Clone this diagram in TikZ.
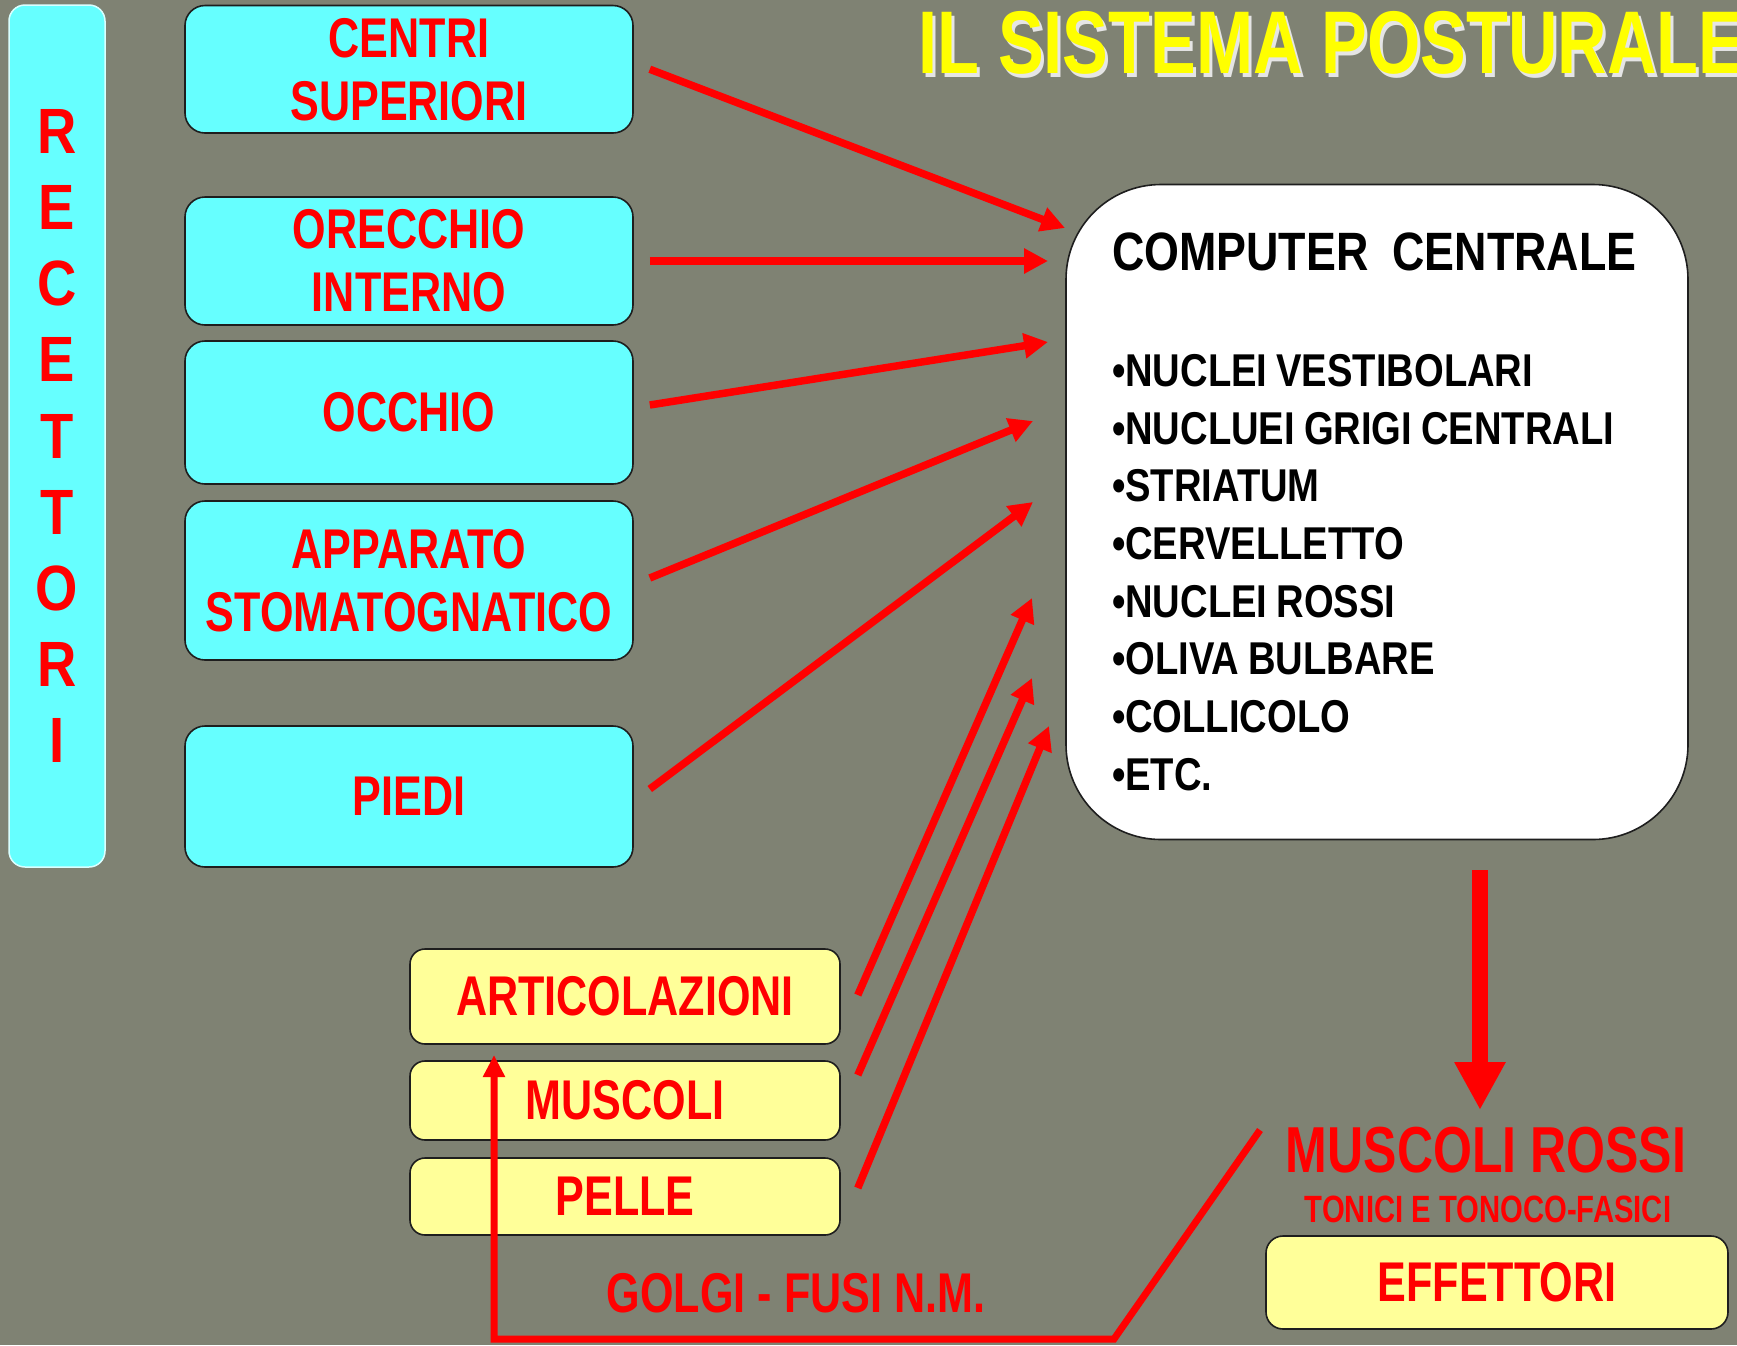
\documentclass[tikz,border=0pt]{standalone}
\usepackage{fontspec}
\setmainfont{Liberation Sans}
\newfontfamily\redf{Liberation Sans}[FakeStretch=0.77]
\newfontfamily\blkf{Liberation Sans}[FakeStretch=0.83]
\newfontfamily\letf{Liberation Sans}[FakeStretch=0.85]
\newcommand\wsp{\hspace{9pt}}
\usetikzlibrary{arrows.meta}
\definecolor{bg}{RGB}{127,130,115}
\definecolor{cy}{RGB}{102,255,255}
\definecolor{ly}{RGB}{255,255,153}
\definecolor{rd}{RGB}{255,0,0}
\definecolor{ttl}{RGB}{255,255,0}
\definecolor{edge}{RGB}{30,30,30}
\begin{document}
\begin{tikzpicture}[x=1pt,y=-1pt,
  cybox/.style={draw=edge, line width=1.6pt, fill=cy, rounded corners=20pt,
    minimum width=448pt, inner sep=0pt, align=center, text=rd,
    font=\redf\bfseries\fontsize{56}{63}\selectfont},
  ybox/.style={draw=edge, line width=1.6pt, fill=ly, rounded corners=15pt,
    inner sep=0pt, align=center, text=rd,
    font=\redf\bfseries\fontsize{56}{63}\selectfont},
  redtxt/.style={inner sep=0pt, text=rd, font=\redf\bfseries\fontsize{56}{63}\selectfont},
  arr/.style={draw=rd, line width=7.5pt, -{Triangle[length=24pt,width=24pt]}},
  bigarr/.style={draw=rd, line width=16pt, -{Triangle[length=48pt,width=48pt]}},
  fbline/.style={draw=rd, line width=7pt, line join=miter, -{Triangle[length=22pt,width=21pt]}}
]
\useasboundingbox (0,0) rectangle (1737,1345);
\fill[bg] (0,0) rectangle (1737,1345);

% title with light shadow
\node[anchor=west, inner sep=0pt, text=white!80!gray, font=\redf\bfseries\fontsize{89}{90}\selectfont] (titleshadow) at (921,47) {IL SISTEMA POSTURALE};
\node[anchor=west, inner sep=0pt, text=ttl, font=\redf\bfseries\fontsize{89}{90}\selectfont] (title) at (918,43) {IL SISTEMA POSTURALE};

% RECETTORI bar
\node[draw=white!75!cy, line width=1.5pt, fill=cy, rounded corners=16pt,
  minimum width=96pt, minimum height=862pt, inner sep=0pt, align=center, text=rd,
  font=\letf\bfseries\fontsize{64}{76.1}\selectfont] (rbar) at (57,436)
  {R\\E\\C\\E\\T\\T\\O\\R\\I};

% receptor boxes
\node[cybox, minimum height=127.5pt] (cs) at (409,69.25) {CENTRI\\SUPERIORI};
\node[cybox, minimum height=128pt] (oi) at (409,261) {ORECCHIO\\INTERNO};
\node[cybox, minimum height=143pt] (occ) at (409,412.5) {OCCHIO};
\node[cybox, minimum height=159pt] (app) at (409,580.5) {APPARATO\\STOMATOGNATICO};
\node[cybox, minimum height=141pt] (pie) at (409,796.5) {PIEDI};

% computer box
\node[draw=edge, line width=1.6pt, fill=white, rounded corners=95pt,
  minimum width=622pt, minimum height=655pt, inner sep=0pt,
  text width=530pt, align=left, text=black,
  font=\blkf\bfseries\fontsize{46}{57.7}\selectfont] (comp) at (1377,512)
  {\mbox{\fontsize{54}{57.7}\selectfont COMPUTER\hspace{24pt}CENTRALE}\\[57.7pt]
   \mbox{•NUCLEI\wsp VESTIBOLARI}\\
   \mbox{•NUCLUEI\wsp GRIGI\wsp CENTRALI}\\
   \mbox{•STRIATUM}\\
   \mbox{•CERVELLETTO}\\
   \mbox{•NUCLEI\wsp ROSSI}\\
   \mbox{•OLIVA\wsp BULBARE}\\
   \mbox{•COLLICOLO}\\
   \mbox{•ETC.}};

% yellow boxes
\node[ybox, minimum width=430pt, minimum height=95pt] (art) at (625,996.5) {ARTICOLAZIONI};
\node[ybox, minimum width=430pt, minimum height=79pt] (mus) at (625,1100.5) {MUSCOLI};
\node[ybox, minimum width=430pt, minimum height=77pt] (pel) at (625,1196.5) {PELLE};
\node[ybox, minimum width=462pt, minimum height=93pt, rounded corners=17pt] (eff) at (1497,1282.5) {EFFETTORI};

% labels
\node[redtxt, font=\redf\bfseries\fontsize{65}{66}\selectfont] (mr) at (1486,1150) {MUSCOLI ROSSI};
\node[redtxt, font=\redf\bfseries\fontsize{38}{40}\selectfont] (ton) at (1488,1209) {TONICI E TONOCO-FASICI};
\node[redtxt] (golgi) at (796,1293) {GOLGI - FUSI N.M.};

% arrow tips near the computer box
\coordinate (t1) at (1065,228);
\coordinate (t2) at (1048,261);
\coordinate (t3) at (1048,342);
\coordinate (t4) at (1033,421);
\coordinate (t5) at (1033,502);
\coordinate (t6) at (1032,598);
\coordinate (t7) at (1032,678);
\coordinate (t8) at (1049,726);

\draw[arr] ([xshift=16pt]cs.east) -- (t1);
\draw[arr] ([xshift=16pt]oi.east) -- (t2);
\draw[arr] ([xshift=16pt,yshift=7.5pt]occ.east) -- (t3);
\draw[arr] ([xshift=16pt,yshift=2.5pt]app.east) -- (t4);
\draw[arr] ([xshift=16pt,yshift=7.5pt]pie.east) -- (t5);
\draw[arr] ([xshift=17pt,yshift=1.5pt]art.east) -- (t6);
\draw[arr] ([xshift=17pt,yshift=25.5pt]mus.east) -- (t7);
\draw[arr] ([xshift=17pt,yshift=8.5pt]pel.east) -- (t8);

% computer -> muscoli rossi
\coordinate (d0) at (1480,870);
\coordinate (d1) at (1480,1110);
\draw[bigarr] (d0) -- (d1);

% feedback line
\coordinate (f0) at (1260,1130);
\coordinate (f1) at (1114,1339);
\coordinate (f2) at (494,1339);
\coordinate (f3) at (494,1055);
\draw[fbline] (f0) -- (f1) -- (f2) -- (f3);
\end{tikzpicture}
\end{document}
